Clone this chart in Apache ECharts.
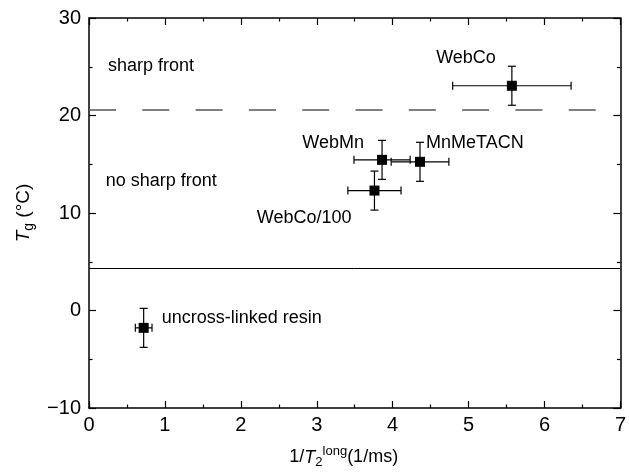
<!DOCTYPE html>
<html>
<head>
<meta charset="utf-8">
<script src="https://cdn.jsdelivr.net/npm/echarts@6/dist/echarts.min.js"></script>
<style>html,body{margin:0;padding:0;background:#fff;}#c{width:629px;height:474px;}</style>
</head>
<body>
<div id="c"></div>
<script>
// ---- data ----
const names = ['uncross-linked resin', 'WebCo/100', 'WebMn', 'MnMeTACN', 'WebCo'];
const xVals = [0.72, 3.76, 3.86, 4.36, 5.57];
const yVals = [-1.78, 12.3, 15.45, 15.25, 23.05];
const xErr  = [0.11, 0.35, 0.37, 0.38, 0.78];
const yErr  = [2.0, 2.0, 2.0, 2.0, 2.0];
const dashedLevel = 20.63;
const solidLevel = 4.3;
const regionTexts = ['sharp front', 'no sharp front'];
const regionX = [0.25, 0.22];
const regionY = [25.1, 13.3];
const xTicks = [0, 1, 2, 3, 4, 5, 6, 7];
const yTicks = [-10, 0, 10, 20, 30];

// label placement (styling only)
const labelStyle = [
  {align: 'left',  offset: [18, -10]},
  {align: 'right', offset: [-23, 27]},
  {align: 'right', offset: [-18, -17]},
  {align: 'left',  offset: [6, -19]},
  {align: 'right', offset: [-16, -28]}
];

const FONT = 'Liberation Sans, Arial, Helvetica, sans-serif';
const chart = echarts.init(document.getElementById('c'), null, {renderer: 'canvas'});

const pts = xVals.map((x, i) => ({
  value: [x, yVals[i]],
  name: names[i],
  label: {show: true, position: 'inside', formatter: names[i], align: labelStyle[i].align,
          verticalAlign: 'middle', offset: labelStyle[i].offset, color: '#000', fontSize: 18, fontFamily: FONT}
}));

const errData = xVals.map((x, i) => [x, yVals[i], xErr[i], yErr[i]]);

const axisCommon = {
  min: 0, max: 7, interval: 1,
  axisLine: {show: true, onZero: false, lineStyle: {color: '#000', width: 1.5}},
  axisTick: {show: true, inside: true, length: 7, lineStyle: {color: '#000', width: 1.2}},
  minorTick: {show: true, splitNumber: 2, length: 3.5, lineStyle: {color: '#000', width: 1.2}},
  splitLine: {show: false}
};

const option = {
  animation: false,
  backgroundColor: '#fff',
  grid: {left: 89, right: 4, top: 18, bottom: 61, containLabel: false},
  xAxis: [
    Object.assign({}, axisCommon, {
      type: 'value', position: 'bottom',
      axisLabel: {color: '#000', fontSize: 20, fontFamily: FONT, margin: 7},
      name: '{a|1/}{i|T}{sub|2}{sup|long}{a|(1/ms)}',
      nameLocation: 'middle', nameGap: 37,
      nameTextStyle: {
        color: '#000', fontFamily: FONT, fontSize: 18, padding: [0, 22, 0, 0],
        rich: {
          a: {fontSize: 18, fontFamily: FONT, color: '#000'},
          i: {fontSize: 18, fontFamily: FONT, fontStyle: 'italic', color: '#000'},
          sub: {fontSize: 13, fontFamily: FONT, color: '#000', padding: [10, 0, 0, 0]},
          sup: {fontSize: 13, fontFamily: FONT, color: '#000', padding: [0, 0, 12, 0]}
        }
      }
    }),
    Object.assign({}, axisCommon, {
      type: 'value', position: 'top', axisLabel: {show: false}
    })
  ],
  yAxis: [
    Object.assign({}, axisCommon, {
      type: 'value', position: 'left', min: -10, max: 30, interval: 10,
      axisLabel: {color: '#000', fontSize: 20, fontFamily: FONT, margin: 8,
                  formatter: v => v < 0 ? '\u2212' + Math.abs(v) : String(v)},
      name: '{i|T}{sub|g}{a| (°C)}',
      nameLocation: 'middle', nameGap: 50,
      nameTextStyle: {
        color: '#000', fontFamily: FONT, fontSize: 19,
        rich: {
          a: {fontSize: 19, fontFamily: FONT, color: '#000'},
          i: {fontSize: 19, fontFamily: FONT, fontStyle: 'italic', color: '#000'},
          sub: {fontSize: 14, fontFamily: FONT, color: '#000', padding: [10, 0, 0, 0]}
        }
      }
    }),
    Object.assign({}, axisCommon, {
      type: 'value', position: 'right', min: -10, max: 30, interval: 10,
      axisLabel: {show: false}
    })
  ],
  series: [
    {
      type: 'custom',
      xAxisIndex: 0, yAxisIndex: 0,
      data: errData,
      z: 3,
      renderItem: function (params, api) {
        const x = api.value(0), y = api.value(1), ex = api.value(2), ey = api.value(3);
        const l = api.coord([x - ex, y]);
        const r = api.coord([x + ex, y]);
        const t = api.coord([x, y + ey]);
        const b = api.coord([x, y - ey]);
        const cap = 4;
        const st = {stroke: '#000', lineWidth: 1.2};
        return {
          type: 'group',
          children: [
            {type: 'line', shape: {x1: l[0], y1: l[1], x2: r[0], y2: r[1]}, style: st},
            {type: 'line', shape: {x1: t[0], y1: t[1], x2: b[0], y2: b[1]}, style: st},
            {type: 'line', shape: {x1: l[0], y1: l[1] - cap, x2: l[0], y2: l[1] + cap}, style: st},
            {type: 'line', shape: {x1: r[0], y1: r[1] - cap, x2: r[0], y2: r[1] + cap}, style: st},
            {type: 'line', shape: {x1: t[0] - cap, y1: t[1], x2: t[0] + cap, y2: t[1]}, style: st},
            {type: 'line', shape: {x1: b[0] - cap, y1: b[1], x2: b[0] + cap, y2: b[1]}, style: st}
          ]
        };
      }
    },
    {
      type: 'scatter',
      xAxisIndex: 0, yAxisIndex: 0,
      symbol: 'rect', symbolSize: 10,
      itemStyle: {color: '#000', opacity: 1},
      data: pts,
      z: 4,
      markLine: {
        silent: true, symbol: 'none', label: {show: false},
        data: [
          {yAxis: dashedLevel, lineStyle: {type: [27, 26.3], color: '#555', width: 1.5}},
          {yAxis: solidLevel, lineStyle: {type: 'solid', color: '#000', width: 1}}
        ]
      }
    },
    {
      type: 'scatter',
      xAxisIndex: 0, yAxisIndex: 0,
      symbolSize: 0,
      silent: true,
      itemStyle: {color: '#000', opacity: 1},
      data: regionTexts.map((t, i) => ({
        value: [regionX[i], regionY[i]],
        label: {show: true, position: 'inside', align: 'left', verticalAlign: 'middle',
                formatter: t, color: '#000', opacity: 1, fontSize: 18, fontFamily: FONT}
      }))
    }
  ]
};
chart.setOption(option);
</script>
</body>
</html>
